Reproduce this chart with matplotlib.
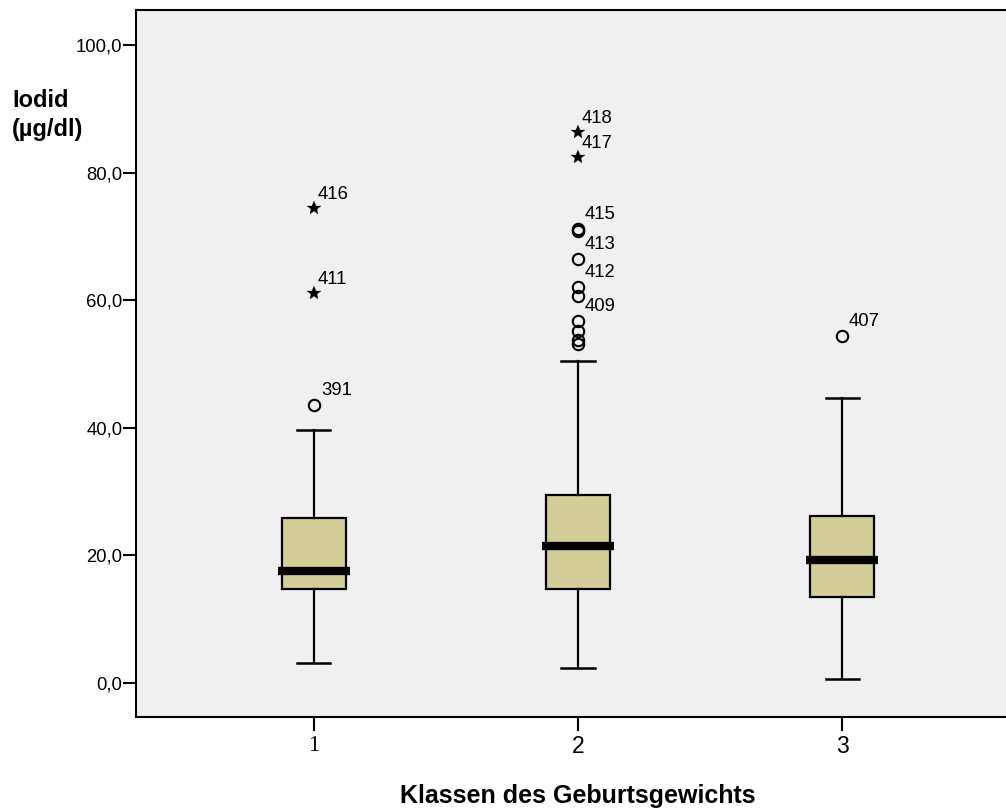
import matplotlib
matplotlib.use("Agg")
import matplotlib.pyplot as plt

# ---- data ----
categories = ["1", "2", "3"]
q1 = [14.7, 14.8, 13.4]
medians = [17.5, 21.5, 19.3]
q3 = [25.9, 29.5, 26.1]
whisker_low = [3.2, 2.4, 0.6]
whisker_high = [39.7, 50.4, 44.6]

# mild outliers (circles) per category, with case labels ('' = unlabeled)
circle_vals = [[43.5],
               [71.1, 70.9, 66.4, 62.1, 60.7, 56.8, 55.1, 53.8, 53.1],
               [54.4]]
circle_labels = [["391"],
                 ["415", "", "413", "412", "", "409", "", "", ""],
                 ["407"]]
# extreme outliers (stars)
star_vals = [[74.5, 61.2], [86.4, 82.4], []]
star_labels = [["416", "411"], ["418", "417"], []]

yticks = [0, 20, 40, 60, 80, 100]
ytick_labels = ["0,0", "20,0", "40,0", "60,0", "80,0", "100,0"]
x_title = "Klassen des Geburtsgewichts"
y_title = ["Iodid", "(µg/dl)"]

# ---- style ----
plt.rcParams["font.family"] = ["Liberation Sans", "DejaVu Sans"]
W, H = 1006, 810
fig = plt.figure(figsize=(W / 100, H / 100), dpi=100)
ax_left, ax_right = 136 / W, 1020 / W
ax_bottom, ax_top = (H - 717) / H, (H - 9.5) / H
ax = fig.add_axes([ax_left, ax_bottom, ax_right - ax_left, ax_top - ax_bottom])
ax.set_facecolor("#F0F0F0")

positions = [1, 2, 3]
stats = []
for i, c in enumerate(categories):
    stats.append(dict(label=c, q1=q1[i], med=medians[i], q3=q3[i],
                      whislo=whisker_low[i], whishi=whisker_high[i], fliers=[]))

box_w = 0.24
ax.bxp(stats, positions=positions, widths=box_w, patch_artist=True,
       showfliers=False,
       boxprops=dict(facecolor="#D3CE98", edgecolor="black", linewidth=1.6),
       whiskerprops=dict(color="black", linewidth=1.6),
       capprops=dict(color="black", linewidth=1.8),
       medianprops=dict(linewidth=0),
       capwidths=0.125)

# thick medians extending slightly beyond the box
ext = 0.016
ax.hlines(medians, [p - box_w / 2 - ext for p in positions],
          [p + box_w / 2 + ext for p in positions],
          colors="black", linewidth=6.0, zorder=5)

for i, p in enumerate(positions):
    if circle_vals[i]:
        ax.plot([p] * len(circle_vals[i]), circle_vals[i], linestyle="none",
                marker="o", markersize=8.2, markerfacecolor="none",
                markeredgecolor="black", markeredgewidth=1.5, zorder=6)
        for v, lab in zip(circle_vals[i], circle_labels[i]):
            if lab:
                ax.annotate(lab, (p, v), xytext=(7, 10), textcoords="offset pixels",
                            ha="left", va="baseline", fontsize=13.3)
    if star_vals[i]:
        ax.plot([p] * len(star_vals[i]), star_vals[i], linestyle="none",
                marker="*", markersize=10.5, markerfacecolor="black",
                markeredgecolor="black", markeredgewidth=0.2, zorder=6)
        for v, lab in zip(star_vals[i], star_labels[i]):
            if lab:
                ax.annotate(lab, (p, v), xytext=(4, 9), textcoords="offset pixels",
                            ha="left", va="baseline", fontsize=13.3)

ax.set_xlim(0.326, 3.674)
ax.set_ylim(-5.33, 105.56)
ax.set_yticks(yticks)
ax.set_yticklabels(ytick_labels, fontsize=13.3)
ax.set_xticks(positions)
ax.set_xticklabels(categories, fontsize=16.5)
ax.get_xticklabels()[0].set_fontfamily(["Liberation Serif"])
ax.tick_params(axis="y", length=9.5, width=1.5, pad=0.3, direction="out")
ax.tick_params(axis="x", length=10, width=1.5, pad=3, direction="out")
for s in ["left", "bottom", "top"]:
    ax.spines[s].set_linewidth(1.5)
    ax.spines[s].set_color("black")
ax.spines["right"].set_visible(False)

fig.text(578 / W, 1 - 803 / H, x_title, ha="center", va="baseline",
         fontsize=18, fontweight="bold")
fig.text(12 / W, 1 - 107 / H, y_title[0], ha="left", va="baseline",
         fontsize=17, fontweight="bold")
fig.text(12 / W, 1 - 136 / H, y_title[1], ha="left", va="baseline",
         fontsize=17, fontweight="bold")

fig.savefig("out.png", dpi=100)
